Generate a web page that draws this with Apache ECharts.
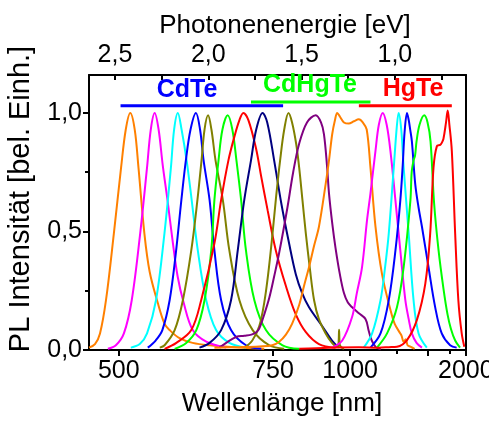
<!DOCTYPE html>
<html>
<head>
<meta charset="utf-8">
<script src="https://cdn.jsdelivr.net/npm/echarts@6/dist/echarts.min.js"></script>
<style>
  html, body { margin: 0; padding: 0; background: #fff; }
  #chart { width: 489px; height: 421px; }
</style>
</head>
<body>
<div id="chart"></div>
<script>
// ---------- data (x = photon energy in eV, y = normalized PL intensity) ----------
const HC = 1239.84; // eV*nm

// CdTe
const cdteOrange  = [[2.639,0.01],[2.607,0.025],[2.580,0.07],[2.548,0.21],[2.506,0.49],[2.467,0.77],[2.442,0.93],[2.418,1.0],[2.394,0.93],[2.374,0.77],[2.342,0.49],[2.314,0.33],[2.271,0.2],[2.234,0.11],[2.207,0.084],[2.154,0.05],[2.084,0.03],[1.993,0.02],[1.817,0.01],[1.700,0.005]];
const cdteMagenta = [[2.538,0.005],[2.495,0.02],[2.452,0.07],[2.410,0.21],[2.365,0.49],[2.328,0.77],[2.308,0.93],[2.287,1.0],[2.266,0.93],[2.244,0.78],[2.218,0.63],[2.191,0.46],[2.164,0.31],[2.132,0.2],[2.083,0.084],[2.011,0.035],[1.904,0.01]];
const cdteCyan    = [[2.415,0.01],[2.367,0.025],[2.328,0.07],[2.280,0.21],[2.235,0.49],[2.200,0.77],[2.183,0.93],[2.163,1.0],[2.143,0.93],[2.116,0.8],[2.090,0.64],[2.056,0.42],[2.011,0.21],[1.958,0.084],[1.887,0.03],[1.798,0.01]];
const cdteBlue    = [[2.324,0.01],[2.282,0.04],[2.246,0.084],[2.207,0.21],[2.175,0.4],[2.144,0.633],[2.120,0.8],[2.095,0.93],[2.066,1.0],[2.044,0.93],[2.025,0.8],[1.993,0.633],[1.967,0.42],[1.931,0.21],[1.878,0.084],[1.798,0.02],[1.716,0.005]];
const cdteOlive   = [[2.260,0.01],[2.234,0.02],[2.180,0.084],[2.136,0.21],[2.091,0.42],[2.058,0.633],[2.036,0.8],[2.020,0.93],[2.001,0.99],[1.983,0.93],[1.961,0.8],[1.922,0.633],[1.887,0.42],[1.833,0.21],[1.762,0.084],[1.673,0.02],[1.593,0.005]];
const cdteGreen   = [[2.180,0.005],[2.118,0.03],[2.064,0.084],[2.020,0.21],[1.984,0.42],[1.967,0.633],[1.945,0.8],[1.924,0.93],[1.896,0.99],[1.871,0.93],[1.849,0.8],[1.824,0.633],[1.798,0.42],[1.753,0.21],[1.691,0.084],[1.602,0.02],[1.513,0.005]];
const cdteRed     = [[2.234,0.005],[2.171,0.03],[2.091,0.084],[2.038,0.21],[1.967,0.45],[1.931,0.633],[1.892,0.8],[1.860,0.9],[1.833,0.97],[1.812,1.0],[1.785,0.97],[1.744,0.85],[1.716,0.73],[1.682,0.59],[1.638,0.42],[1.584,0.27],[1.531,0.15],[1.477,0.075],[1.407,0.025],[1.318,0.01]];
const cdteNavy    = [[2.047,0.01],[1.993,0.03],[1.931,0.084],[1.878,0.21],[1.842,0.42],[1.807,0.633],[1.771,0.8],[1.743,0.93],[1.709,1.0],[1.684,0.96],[1.647,0.8],[1.609,0.62],[1.567,0.45],[1.531,0.32],[1.497,0.24],[1.460,0.18],[1.389,0.1],[1.337,0.04],[1.300,0.01]];
// CdHgTe
const cdhgteOlive  = [[1.807,0.01],[1.764,0.04],[1.727,0.1],[1.700,0.2],[1.679,0.32],[1.657,0.48],[1.636,0.65],[1.615,0.8],[1.593,0.93],[1.570,1.0],[1.551,0.96],[1.529,0.87],[1.513,0.77],[1.495,0.63],[1.477,0.49],[1.455,0.34],[1.433,0.21],[1.407,0.13],[1.371,0.07],[1.337,0.03],[1.311,0.015],[1.303,0.02],[1.299,0.085],[1.295,0.02],[1.273,0.005]];
const cdhgtePurple = [[1.940,0.01],[1.904,0.03],[1.851,0.055],[1.807,0.06],[1.769,0.065],[1.743,0.075],[1.727,0.09],[1.700,0.15],[1.673,0.22],[1.647,0.31],[1.620,0.41],[1.576,0.6],[1.545,0.75],[1.513,0.87],[1.471,0.96],[1.424,0.99],[1.396,0.96],[1.380,0.91],[1.364,0.78],[1.353,0.66],[1.335,0.53],[1.318,0.43],[1.295,0.32],[1.273,0.24],[1.252,0.2],[1.229,0.18],[1.193,0.155],[1.157,0.13],[1.140,0.08],[1.124,0.04],[1.102,0.012],[1.076,0.003]];
const cdhgteOrange = [[1.967,0.01],[1.833,0.012],[1.727,0.015],[1.657,0.02],[1.620,0.035],[1.584,0.065],[1.551,0.11],[1.513,0.19],[1.487,0.27],[1.460,0.35],[1.433,0.44],[1.407,0.52],[1.371,0.7],[1.353,0.8],[1.336,0.91],[1.321,0.97],[1.309,1.0],[1.295,0.985],[1.273,0.96],[1.247,0.955],[1.220,0.965],[1.193,0.973],[1.172,0.96],[1.151,0.93],[1.131,0.77],[1.104,0.52],[1.069,0.32],[1.024,0.17],[1.001,0.11],[0.971,0.07],[0.964,0.06],[0.953,0.035],[0.942,0.045],[0.932,0.02],[0.917,0.014],[0.894,0.005]];
// HgTe
const hgteMagenta = [[1.336,0.01],[1.282,0.04],[1.229,0.14],[1.204,0.24],[1.176,0.35],[1.149,0.55],[1.131,0.66],[1.104,0.84],[1.086,0.95],[1.065,1.0],[1.044,0.95],[1.024,0.84],[0.997,0.63],[0.971,0.42],[0.944,0.21],[0.926,0.13],[0.909,0.07],[0.884,0.03],[0.855,0.01]];
const hgteCyan    = [[1.167,0.01],[1.122,0.07],[1.077,0.21],[1.054,0.34],[1.033,0.49],[1.006,0.77],[0.990,0.94],[0.980,1.0],[0.966,0.93],[0.953,0.77],[0.926,0.49],[0.900,0.21],[0.873,0.07],[0.829,0.01]];
const hgteBlue    = [[1.131,0.01],[1.077,0.07],[1.033,0.21],[0.997,0.42],[0.971,0.63],[0.958,0.78],[0.948,0.92],[0.935,1.0],[0.926,0.97],[0.918,0.93],[0.909,0.88],[0.891,0.7],[0.873,0.6],[0.855,0.52],[0.820,0.35],[0.784,0.18],[0.749,0.07],[0.704,0.02],[0.669,0.01]];
const hgteGreen   = [[1.096,0.01],[1.042,0.07],[0.989,0.18],[0.953,0.35],[0.917,0.63],[0.910,0.75],[0.900,0.8],[0.892,0.82],[0.884,0.88],[0.868,0.95],[0.843,0.99],[0.825,0.96],[0.809,0.88],[0.790,0.62],[0.766,0.42],[0.740,0.26],[0.718,0.15],[0.700,0.09],[0.677,0.04],[0.651,0.01]];
const hgteRed     = [[1.513,0.005],[1.353,0.01],[1.193,0.012],[1.086,0.01],[1.033,0.012],[0.989,0.014],[0.935,0.042],[0.882,0.127],[0.837,0.28],[0.811,0.49],[0.793,0.77],[0.775,0.86],[0.757,0.865],[0.748,0.875],[0.740,0.89],[0.726,0.96],[0.717,1.01],[0.708,0.95],[0.695,0.84],[0.677,0.49],[0.660,0.21],[0.642,0.07],[0.628,0.014]];

// group brackets (energy range, height)
const bracketCdTe   = [[2.470,1.03],[1.599,1.03]];
const bracketCdHgTe = [[1.771,1.046],[1.131,1.046]];
const bracketHgTe   = [[1.193,1.03],[0.695,1.03]];
const groupNames = ['CdTe','CdHgTe','HgTe'];

// axis ticks / labels
const wlTicks   = [500, 750, 1000, 1500, 2000];
const wlLabels  = [500, 750, 1000, 2000];
const wlMinor   = [1250, 1750];
const evTicks   = [0.75, 1.0, 1.25, 1.5, 1.75, 2.0, 2.25, 2.5];
const evLabels  = [1.0, 1.5, 2.0, 2.5];
const yTicks    = [0, 0.5, 1.0];
const yMinor    = [0.25, 0.75];

// ---------- chart ----------
const toEv = nm => HC / nm;
const comma = v => v.toFixed(1).replace('.', ',');
const FONT = '"Liberation Sans", Arial, Helvetica, sans-serif';
const X_MIN = 0.619, X_MAX = 2.639;

const C = {orange:'#FF8000', magenta:'#FF00FF', cyan:'#00FFFF', blue:'#0000FF', olive:'#808000',
           green:'#00FF00', red:'#FF0000', navy:'#000080', purple:'#800080'};

const curves = [
  [cdteOrange, C.orange], [cdteMagenta, C.magenta], [cdteCyan, C.cyan], [cdteBlue, C.blue],
  [cdteOlive, C.olive], [cdteGreen, C.green], [cdteRed, C.red], [cdteNavy, C.navy],
  [cdhgteOlive, C.olive], [cdhgtePurple, C.purple], [cdhgteOrange, C.orange],
  [hgteMagenta, C.magenta], [hgteCyan, C.cyan], [hgteBlue, C.blue], [hgteGreen, C.green], [hgteRed, C.red]
];

const series = curves.map(([d, col]) => ({
  type: 'line', data: d, xAxisIndex: 0, yAxisIndex: 0,
  showSymbol: false, symbol: 'none', smooth: 0.35, clip: true,
  lineStyle: {color: col, width: 2}, itemStyle: {color: col}, silent: true, z: 3
}));
[[bracketCdTe, C.blue], [bracketCdHgTe, C.green], [bracketHgTe, C.red]].forEach(([d, col]) => {
  series.push({type: 'line', data: d, showSymbol: false, symbol: 'none', clip: false,
    lineStyle: {color: col, width: 3}, silent: true, z: 4});
});

const blackLine = {show: true, onZero: false, lineStyle: {color: '#000', width: 2}};
const noSplit = {show: false};

const option = {
  animation: false,
  backgroundColor: '#fff',
  grid: {left: 89, right: 23, top: 75, bottom: 71, containLabel: false, outerBoundsMode: 'none'},
  xAxis: [
    { type: 'value', position: 'bottom', min: X_MIN, max: X_MAX, inverse: true,
      axisLine: blackLine, splitLine: noSplit,
      axisTick: {show: true, inside: false, length: 6, lineStyle: {color: '#000', width: 2}, customValues: wlTicks.map(toEv)},
      axisLabel: {show: true, customValues: wlLabels.map(toEv), formatter: v => String(Math.round(HC / v)),
                  color: '#000', fontSize: 25, fontFamily: FONT, margin: 9} },
    { type: 'value', position: 'bottom', min: X_MIN, max: X_MAX, inverse: true,
      axisLine: {show: false}, splitLine: noSplit, axisLabel: {show: false},
      axisTick: {show: true, inside: false, length: 4, lineStyle: {color: '#000', width: 2}, customValues: wlMinor.map(toEv)} },
    { type: 'value', position: 'top', min: X_MIN, max: X_MAX, inverse: true,
      axisLine: blackLine, splitLine: noSplit,
      axisTick: {show: true, inside: true, length: 5, lineStyle: {color: '#000', width: 2}, customValues: evTicks},
      axisLabel: {show: true, customValues: evLabels, formatter: comma, color: '#000', fontSize: 25, fontFamily: FONT, margin: 7} }
  ],
  yAxis: [
    { type: 'value', position: 'left', min: 0, max: 1.16,
      axisLine: blackLine, splitLine: noSplit,
      axisTick: {show: true, inside: false, length: 6, lineStyle: {color: '#000', width: 2}, customValues: yTicks},
      axisLabel: {show: true, customValues: yTicks, formatter: comma, color: '#000', fontSize: 25, fontFamily: FONT, margin: 7} },
    { type: 'value', position: 'left', min: 0, max: 1.16,
      axisLine: {show: false}, splitLine: noSplit, axisLabel: {show: false},
      axisTick: {show: true, inside: false, length: 4, lineStyle: {color: '#000', width: 2}, customValues: yMinor} },
    { type: 'value', position: 'right', min: 0, max: 1.16,
      axisLine: blackLine, splitLine: noSplit, axisLabel: {show: false}, axisTick: {show: false} }
  ],
  series: series,
  graphic: [
    {type: 'text', x: 285, y: 26, style: {text: 'Photonenenergie [eV]', font: '26px ' + FONT, fill: '#000', align: 'center', verticalAlign: 'middle'}},
    {type: 'text', x: 282, y: 404, style: {text: 'Wellenlänge [nm]', font: '26px ' + FONT, fill: '#000', align: 'center', verticalAlign: 'middle'}},
    {type: 'text', x: 21, y: 199, rotation: Math.PI / 2, style: {text: 'PL Intensität [bel. Einh.]', font: '29px ' + FONT, fill: '#000', align: 'center', verticalAlign: 'middle'}},
    {type: 'text', x: 187, y: 90, z: 10, style: {text: groupNames[0], font: 'bold 25px ' + FONT, fill: C.blue, align: 'center', verticalAlign: 'middle'}},
    {type: 'text', x: 310, y: 85, z: 10, style: {text: groupNames[1], font: 'bold 25px ' + FONT, fill: C.green, align: 'center', verticalAlign: 'middle'}},
    {type: 'text', x: 413, y: 89, z: 10, style: {text: groupNames[2], font: 'bold 25px ' + FONT, fill: C.red, align: 'center', verticalAlign: 'middle'}}
  ]
};

const chart = echarts.init(document.getElementById('chart'), null, {renderer: 'canvas'});
chart.setOption(option);
</script>
</body>
</html>
